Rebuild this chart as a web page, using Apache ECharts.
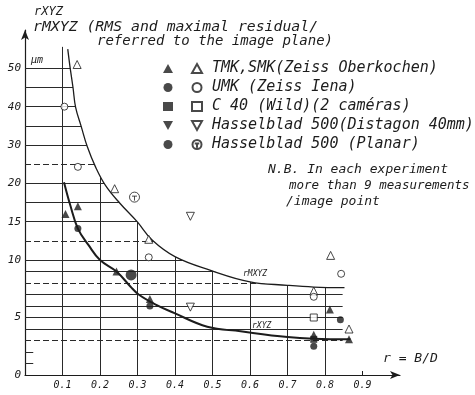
<!DOCTYPE html>
<html>
<head>
<meta charset="utf-8">
<script src="https://cdn.jsdelivr.net/npm/echarts@6/dist/echarts.min.js"></script>
<style>
html, body { margin: 0; padding: 0; background: #fff; }
#chart { width: 475px; height: 395px; }
</style>
</head>
<body>
<div id="chart"></div>
<script>
// y scale of the drawing: linear up to 10, squeezed 10-20, squeezed more above 20
const toD = v => v <= 10 ? v : (v <= 20 ? 10 + (v - 10) * 2 / 3 : 50 / 3 + (v - 20) / 3)
const fromD = d => d <= 10 ? d : (d <= 50 / 3 ? 10 + (d - 10) * 1.5 : 20 + (d - 50 / 3) * 3)

// ticks and grid
const yLabels = [0, 5, 10, 15, 20, 30, 40, 50]
const xLabels = [0.1, 0.2, 0.3, 0.4, 0.5, 0.6, 0.7, 0.8, 0.9]
const gridX = [0.1, 0.2, 0.3, 0.4, 0.5, 0.6, 0.7, 0.8]
const gridYSolid = [4, 5, 6, 7, 9, 10, 15, 17.5, 20, 30, 35, 40, 45, 50]
const gridYDashed = [3, 8, 12.5, 25]
const shortTicks = [1, 2]

// curves rMXYZ / rXYZ
const rmX = [0.114, 0.12, 0.128, 0.135, 0.15, 0.166, 0.188, 0.215, 0.253, 0.299, 0.339, 0.401, 0.495, 0.6, 0.7, 0.77, 0.852]
const rmV = [55, 50.4, 45, 39.8, 34.8, 29.6, 24.3, 19.7, 17.4, 15, 12.6, 10.4, 9.1, 8.1, 7.8, 7.65, 7.6]
const rX = [0.104, 0.121, 0.141, 0.17, 0.2, 0.244, 0.281, 0.303, 0.35, 0.397, 0.486, 0.575, 0.7, 0.77, 0.868]
const rV = [20.3, 17.1, 14.1, 11.9, 10, 9.0, 7.7, 7.0, 6.1, 5.4, 4.2, 3.8, 3.3, 3.15, 3.1]

// measured points [r, value]
const tmkFilled = [[0.108, 16], [0.141, 17], [0.244, 9], [0.333, 6.6], [0.77, 3.5], [0.813, 5.7], [0.864, 3.1]]
const tmkOpen = [[0.139, 51], [0.239, 19.3], [0.33, 12.7], [0.77, 7.3], [0.815, 10.6], [0.864, 4.0]]
const umkFilled = [[0.141, 14.1], [0.333, 6.0], [0.841, 4.8], [0.77, 2.5]]
const umkOpen = [[0.105, 40], [0.141, 24.3], [0.33, 10.35], [0.843, 8.8], [0.77, 6.8]]
const c40Filled = [[0.77, 3.1]]
const c40Open = [[0.77, 5.0]]
const distFilled = []
const distOpen = [[0.441, 15.7], [0.441, 5.9]]
const planFilled = [[0.283, 8.7]]
const planOpen = [[0.292, 18.2]]

const names = ['TMK,SMK(Zeiss Oberkochen)', 'UMK (Zeiss Iena)', 'C 40 (Wild)(2 caméras)',
  'Hasselblad 500(Distagon 40mm)', 'Hasselblad 500 (Planar)']

const ink = '#1c1c1c'
const hand = 'DejaVu Sans Mono'
const conv = arr => arr.map(p => [p[0], toD(p[1])])

const invTri = 'path://M0,0L10,0L5,9Z'
const planar = 'path://M10,5A5,5 0 1 1 0,5A5,5 0 1 1 10,5Z M2.5,4L7.5,4M5,4L5,8.5'

const pts = (name, data, symbol, size, filled) => ({
  name: name,
  type: 'scatter',
  data: conv(data),
  symbol: symbol,
  symbolSize: size,
  z: 10,
  itemStyle: filled ? { color: ink } : { color: '#fff', borderColor: ink, borderWidth: 1 }
})

// grid lines through the library's scale
const gridLines = []
gridYSolid.forEach(v => gridLines.push([{ coord: [0, toD(v)] }, { coord: [0.847, toD(v)] }]))
gridYDashed.forEach(v => gridLines.push([{ coord: [0, toD(v)], lineStyle: { type: [6, 3] } }, { coord: [0.847, toD(v)] }]))
shortTicks.forEach(v => gridLines.push([{ coord: [0, toD(v)] }, { coord: [0.022, toD(v)] }]))
gridX.forEach(x => gridLines.push([{ coord: [x, 0] }, { coord: [x, toD(55.6)] }]))

const txt = (left, top, text, size) => ({
  type: 'text', left: left, top: top, z: 100,
  style: { text: text, font: 'italic ' + size + 'px ' + hand, fill: ink }
})

const myChart = echarts.init(document.getElementById('chart'))

const options = {
  animation: false,
  backgroundColor: '#fff',
  grid: { left: 25, right: 75, top: 30, bottom: 20 },
  xAxis: {
    type: 'value',
    min: 0,
    max: 1,
    splitLine: { show: false },
    axisLine: { lineStyle: { color: ink, width: 1.2 }, symbol: ['none', 'arrow'], symbolSize: [6, 10] },
    axisTick: { show: true, inside: true, length: 4, customValues: xLabels, lineStyle: { color: ink } },
    axisLabel: {
      customValues: xLabels,
      formatter: v => v.toFixed(1),
      color: ink,
      fontStyle: 'italic',
      fontFamily: hand,
      fontSize: 10,
      margin: 5
    }
  },
  yAxis: {
    type: 'value',
    min: 0,
    max: 30,
    splitLine: { show: false },
    axisLine: { lineStyle: { color: ink, width: 1.2 }, symbol: ['none', 'arrow'], symbolSize: [6, 10] },
    axisTick: { show: false },
    axisLabel: {
      customValues: yLabels.map(toD),
      formatter: d => String(Math.round(fromD(d))),
      color: ink,
      fontStyle: 'italic',
      fontFamily: hand,
      fontSize: 11,
      margin: 4
    }
  },
  legend: [
    {
      data: names.map(n => n + ' '),
      orient: 'vertical',
      left: 158,
      top: 54,
      itemWidth: 10,
      itemHeight: 9,
      itemGap: 0,
      selectedMode: false,
      formatter: () => ' ',
      textStyle: { fontSize: 15, lineHeight: 19, fontFamily: hand }
    },
    {
      data: names,
      orient: 'vertical',
      left: 186,
      top: 54,
      itemWidth: 10,
      itemHeight: 9,
      itemGap: 0,
      selectedMode: false,
      textStyle: { fontSize: 15, lineHeight: 19, fontFamily: hand, fontStyle: 'italic', color: ink, padding: [0, 0, 0, 5] }
    }
  ],
  graphic: [
    txt(34, 6, 'rXYZ', 12),
    txt(33, 20, 'rMXYZ (RMS and maximal residual/', 14.8),
    txt(97, 34, 'referred to the image plane)', 14),
    txt(31, 55, 'µm', 10),
    txt(268, 163, 'N.B. In each experiment', 13),
    txt(289, 179, 'more than 9 measurements', 12.5),
    txt(286, 195, '/image point', 13),
    txt(243, 270, 'rMXYZ', 8),
    txt(252, 322, 'rXYZ', 8),
    txt(383, 352, 'r = B/D', 13)
  ],
  series: [
    {
      name: 'grid',
      type: 'line',
      data: [[0, 0]],
      showSymbol: false,
      lineStyle: { width: 0 },
      z: 1,
      silent: true,
      markLine: {
        z: 1,
        silent: true,
        symbol: 'none',
        label: { show: false },
        lineStyle: { color: '#2a2a2a', width: 1, type: 'solid' },
        data: gridLines
      }
    },
    {
      name: 'rMXYZ',
      type: 'line',
      data: rmX.map((x, i) => [x, toD(rmV[i])]),
      smooth: 0.4,
      showSymbol: false,
      z: 3,
      lineStyle: { color: ink, width: 1.3 },
      areaStyle: { color: '#fff', opacity: 1, origin: 'end' }
    },
    {
      name: 'rXYZ',
      type: 'line',
      data: rX.map((x, i) => [x, toD(rV[i])]),
      smooth: 0.4,
      showSymbol: false,
      z: 3,
      lineStyle: { color: ink, width: 2 }
    },
    pts(names[0] + ' ', tmkFilled, 'triangle', 8, true),
    pts(names[0], tmkOpen, 'triangle', 8, false),
    pts(names[1] + ' ', umkFilled, 'circle', 7, true),
    pts(names[1], umkOpen, 'circle', 7, false),
    pts(names[2] + ' ', c40Filled, 'rect', 7, true),
    pts(names[2], c40Open, 'rect', 7, false),
    pts(names[3] + ' ', distFilled, invTri, 8, true),
    pts(names[3], distOpen, invTri, 8, false),
    pts(names[4] + ' ', planFilled, 'circle', 11, true),
    pts(names[4], planOpen, planar, 10, false)
  ]
}
myChart.setOption(options)
</script>
</body>
</html>
